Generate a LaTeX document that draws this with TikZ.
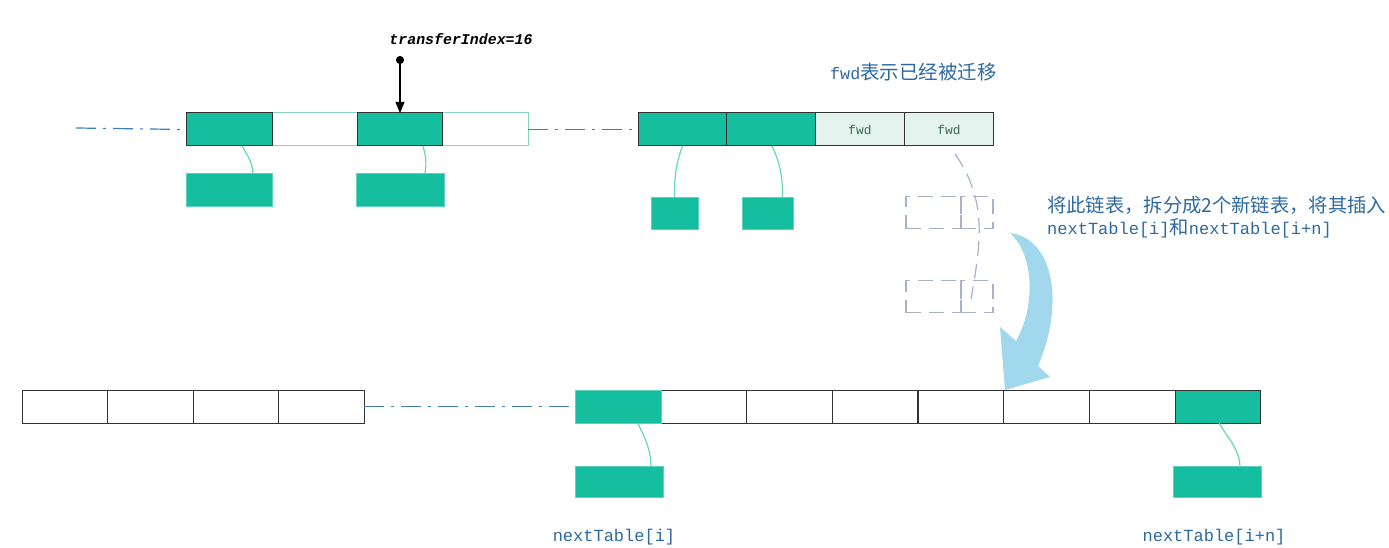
\documentclass[tikz,border=0pt]{standalone}
\usepackage{fontspec}
\usepackage{tikz}
\usetikzlibrary{arrows.meta}
\newfontfamily\cjk{Noto Sans CJK SC}
\newfontfamily\mono{Liberation Mono}
\definecolor{nodegreen}{RGB}{22,190,160}
\definecolor{linkgreen}{RGB}{100,214,186}
\definecolor{lightline}{RGB}{135,214,192}
\definecolor{cellline}{RGB}{50,50,50}
\definecolor{fwdfill}{RGB}{229,243,238}
\definecolor{fwdtext}{RGB}{60,105,80}
\definecolor{chainblue}{RGB}{62,128,190}
\definecolor{noteblue}{RGB}{45,105,160}
\definecolor{ghostgray}{RGB}{165,178,200}
\definecolor{moveblue}{RGB}{162,216,238}

\begin{document}
\begin{tikzpicture}
      [x=1pt, y=-1pt,
      cell/.style={draw=cellline, line width=1pt, minimum width=85.75pt, minimum height=33pt, inner sep=0pt, outer sep=0pt},
      slot/.style={cell, fill=nodegreen},
      free/.style={cell, draw=lightline},
      moved/.style={cell, fill=fwdfill, text=fwdtext, font=\mono\fontsize{12.8}{14}\selectfont},
      entry/.style={fill=nodegreen, draw=nodegreen!70!white, minimum width=86pt, minimum height=33pt, inner sep=0pt},
      ghost/.style={draw=ghostgray, line width=1.2pt, dash pattern=on 15pt off 8pt, minimum height=32pt, inner sep=0pt},
      link/.style={draw=linkgreen, line width=1.2pt},
      chain/.style={draw=chainblue, line width=1.2pt, dash pattern=on 20pt off 7pt on 3pt off 7pt},
      arr/.style={{Circle[length=8pt]}-{Triangle[length=11pt, width=9pt]}, line width=1.2pt},
      note/.style={text=noteblue, inner sep=0pt}]
      \useasboundingbox (0,0) rectangle (1389,548);
      % old table, transferIndex points at A3
      \node (A2) at (315, 129.5) [free, minimum width=86pt] {};
      \node (A4) at (485, 129.5) [free, minimum width=86pt] {};
      \node (A1) at (229, 129.5) [slot, minimum width=86pt] {};
      \node (A3) at (400, 129.5) [slot, minimum width=85pt] {};
      \coordinate (start) at (76, 128);
      \draw[chain] (start) -- (A1.west);
      \node (B1) at (682.5, 129.5) [slot, minimum width=89pt] {};
      \node (B2) at (771, 129.5) [slot, minimum width=89pt] {};
      \node (B3) at (860, 129.5) [moved, minimum width=89pt] {fwd};
      \node (B4) at (949, 129.5) [moved, minimum width=89pt] {fwd};
      \draw[chain] (A4.east) -- (B1.west);
      \coordinate (ptr) at (400, 56);
      \node (ti) at (461, 39) [font=\mono\bfseries\itshape\fontsize{14.9}{16}\selectfont, inner sep=0pt] {transferIndex=16};
      \draw[arr] (ptr) -- (A3.north);
      \node (fwdnote) at (830, 72) [note, anchor=west] {{\mono\fontsize{16.7}{20}\selectfont fwd}{\cjk\fontsize{19.5}{24}\selectfont 表示已经被迁移}};
      % chains hanging from the old table
      \node (L1) at (229, 189.5) [entry] {};
      \node (L2) at (400, 189.5) [entry, minimum width=88pt] {};
      \node (R1) at (674.5, 213) [entry, minimum width=47pt, minimum height=32pt] {};
      \node (R2) at (767.5, 213) [entry, minimum width=51pt, minimum height=32pt] {};
      \draw[link] ([xshift=13pt]A1.south) to[out=-60, in=95] ([xshift=24pt]L1.north);
      \draw[link] ([xshift=23pt]A3.south) to[out=-75, in=80] ([xshift=25pt]L2.north);
      \draw[link] (B1.south) to[out=-110, in=90] (R1.north);
      \draw[link] ([xshift=1pt]B2.south) to[out=-65, in=90] ([xshift=15pt]R2.north);
      % the chain being split
      \node (G1a) at (933.5, 212.5) [ghost, minimum width=55pt] {};
      \node (G1b) at (977, 212.5) [ghost, minimum width=32pt] {};
      \node (G2a) at (933.5, 296.5) [ghost, minimum width=55pt] {};
      \node (G2b) at (977, 296.5) [ghost, minimum width=32pt] {};
      \coordinate (tail) at (971, 299);
      \draw[ghost] ([xshift=6pt, yshift=-8pt]B4.south) to[out=-55, in=80] (tail);
      \fill[moveblue] (1010, 233) .. controls (1052, 238) and (1066, 300) .. (1038, 366)
      -- (1050, 377) -- (1005, 390) -- (1000, 327) -- (1016, 341)
      .. controls (1036, 305) and (1034, 255) .. (1010, 233) -- cycle;
      \node (split) at (1047, 205) [note, anchor=west, font=\cjk\fontsize{19.3}{22}\selectfont] {将此链表，拆分成2个新链表，将其插入};
      \node (split2) at (1047, 228) [note, anchor=west] {{\mono\fontsize{17}{20}\selectfont nextTable[i]}{\cjk\fontsize{19.3}{22}\selectfont 和}{\mono\fontsize{17}{20}\selectfont nextTable[i+n]}};
      % new table
      \node (C1) at (64.75, 406.5) [cell, minimum width=85.5pt] {};
      \node (C2) at (150.25, 406.5) [cell, minimum width=85.5pt] {};
      \node (C3) at (235.75, 406.5) [cell, minimum width=85.5pt] {};
      \node (C4) at (321.25, 406.5) [cell, minimum width=85.5pt] {};
      \node (C6) at (703.6, 406.5) [cell] {};
      \node (C7) at (789.4, 406.5) [cell] {};
      \node (C8) at (875.1, 406.5) [cell] {};
      \node (C9) at (960.9, 406.5) [cell] {};
      \node (C10) at (1046.6, 406.5) [cell] {};
      \node (C11) at (1132.4, 406.5) [cell] {};
      \node (C12) at (1218.1, 406.5) [slot] {};
      \node (C5) at (617.9, 406.5) [entry, minimum width=85.75pt] {};
      \draw[chain] (C4.east) -- (C5.west);
      \node (E1) at (619, 481.5) [entry, minimum width=88pt, minimum height=31pt] {};
      \node (E2) at (1217, 481.5) [entry, minimum width=88pt, minimum height=31pt] {};
      \draw[link] ([xshift=20pt]C5.south) to[out=-65, in=92] ([xshift=32pt]E1.north);
      \draw[link] ([xshift=1pt]C12.south) to[out=-60, in=95] ([xshift=23pt]E2.north);
      \node (low) at (614, 537) [note, font=\mono\fontsize{17}{20}\selectfont] {nextTable[i]};
      \node (high) at (1214, 537) [note, font=\mono\fontsize{17}{20}\selectfont] {nextTable[i+n]};
    \end{tikzpicture}
\end{document}
